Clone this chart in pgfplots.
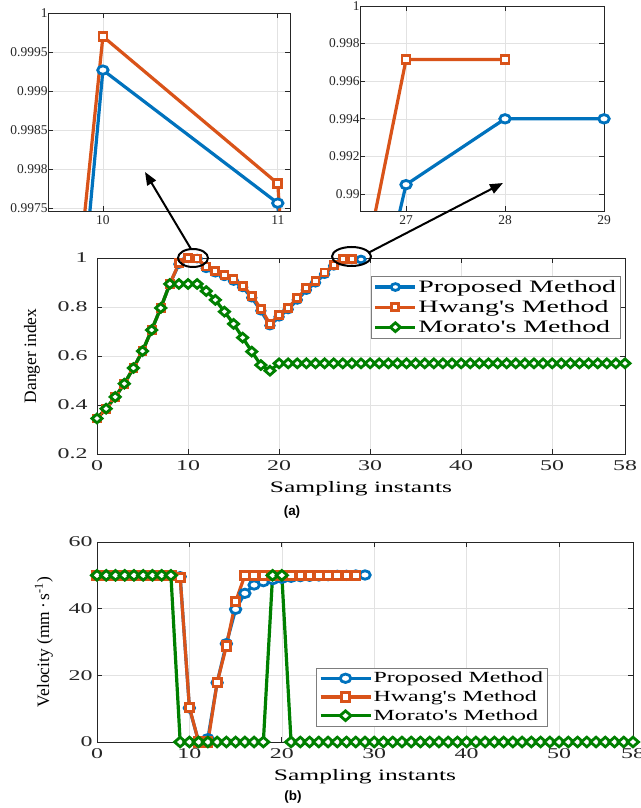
\documentclass[border=0pt]{standalone}
\usepackage{fontspec}
\setmainfont{Liberation Serif}
\newfontfamily\wideserif[FakeStretch=1.6]{Liberation Serif}
\newfontfamily\legserif[FakeStretch=1.55]{Liberation Serif}
\newfontfamily\labelsans{Liberation Sans}
\usepackage{pgfplots}
\pgfplotsset{compat=1.18}
\usetikzlibrary{arrows.meta}

\definecolor{mblue}{RGB}{0,114,189}
\definecolor{morange}{RGB}{217,83,25}
\definecolor{mgreen}{RGB}{0,128,0}
\definecolor{axisgray}{RGB}{38,38,38}
\definecolor{gridgray}{RGB}{226,226,226}
\definecolor{leggray}{RGB}{125,125,125}

\pgfplotsset{
  mat/.style={scale only axis, anchor=south west,
    axis line style={draw=axisgray, line width=0.8bp},
    tick align=inside, major tick length=5bp,
    tick style={draw=axisgray, line width=0.8bp},
    grid=major, grid style={draw=gridgray, line width=0.6bp},
    /pgf/number format/assume math mode=true,
    ticklabel style={text=axisgray}},
  inset/.style={mat, tick label style={font=\fontsize{13.5}{14}\selectfont},
    yticklabel style={xshift=3bp}, xticklabel style={yshift=-1bp}},
  big/.style={mat, clip=false,
    tick label style={font=\wideserif\fontsize{15}{15}\selectfont},
    xticklabel style={yshift=-3bp},
    xlabel style={font=\wideserif\fontsize{16}{17}\selectfont, anchor=center},
    ylabel style={font=\fontsize{17.5}{18}\selectfont, anchor=center},
    legend cell align=left},
  % series styles: #1 = marker size
  sP/.style={color=mblue, line width=3.2bp, mark=*,
    mark options={fill=white, line width=2.8bp, solid, xscale=1.25}, mark size=#1},
  sH/.style={color=morange, line width=3.2bp, mark=square*,
    mark options={fill=white, line width=2.8bp, solid}, mark size=#1},
  sM/.style={color=mgreen, line width=3.2bp, mark=square*,
    mark options={fill=white, line width=2.8bp, solid, xscale=1.15, rotate=45}, mark size=#1},
}

\begin{document}
\begin{tikzpicture}
\path[use as bounding box] (0,0) rectangle (641bp,808bp);

% ---------- inset 1 (samples 10-11) ----------
\begin{axis}[inset, at={(48bp,597bp)}, width=242bp, height=198bp,
  xmin=9.686, xmax=11.07, ymin=0.99747, ymax=1,
  xtick={10,11},
  ytick={0.9975,0.998,0.9985,0.999,0.9995,1},
  yticklabels={0.9975,0.998,0.9985,0.999,0.9995,1}]
\addplot[sP=4.2bp] coordinates {(9,0.975) (10,0.99927) (11,0.99757) (12,0.958)};
\addplot[sH=4bp] coordinates {(9,0.978) (10,0.9997) (11,0.99782) (12,0.965)};
\end{axis}

% ---------- inset 2 (samples 27-29) ----------
\begin{axis}[inset, at={(360bp,597bp)}, width=244bp, height=205bp,
  xmin=26.535, xmax=29, ymin=0.9891, ymax=1,
  xtick={27,28,29},
  ytick={0.99,0.992,0.994,0.996,0.998,1},
  yticklabels={0.99,0.992,0.994,0.996,0.998,1}]
\addplot[sP=4.2bp] coordinates {(26,0.968) (27,0.9905) (28,0.994) (29,0.994)};
\addplot[sH=4bp] coordinates {(26,0.971) (27,0.99715) (28,0.99715)};
\end{axis}

% ---------- (a) danger index ----------
\begin{axis}[big, at={(97bp,354bp)}, width=528bp, height=196bp,
  xmin=0, xmax=58, ymin=0.2, ymax=1,
  xtick={0,10,20,30,40,50,58}, ytick={0.2,0.4,0.6,0.8,1},
  yticklabel style={xshift=-6bp},
  xlabel={Sampling instants}, ylabel={Danger index},
  xlabel style={at={(axis description cs:0.5,-0.179)}},
  ylabel style={at={(axis description cs:-0.123,0.5)}},
  legend style={at={(0.991,0.908)}, anchor=north east, draw=leggray,
    font=\wideserif\fontsize{17.5}{18}\selectfont, text=black,
    inner sep=2.5bp, row sep=3.5bp, nodes={inner sep=1.5bp}},
  legend image code/.code={\draw[mark repeat=2,mark phase=2,#1,line width=3.2bp]
    plot coordinates {(0bp,0bp) (20bp,0bp) (40bp,0bp)};}]
\addplot[sP=3.4bp] coordinates {(0,0.345) (1,0.385) (2,0.433) (3,0.487) (4,0.551)
  (5,0.620) (6,0.706) (7,0.796) (8,0.894) (9,0.975) (10,0.99927) (11,0.99757)
  (12,0.958) (13,0.940) (14,0.925) (15,0.906) (16,0.880) (17,0.838) (18,0.785)
  (19,0.724) (20,0.760) (21,0.790) (22,0.829) (23,0.869) (24,0.899) (25,0.934)
  (26,0.968) (27,0.9905) (28,0.994) (29,0.994)};
\addlegendentry{Proposed Method}
\addplot[sH=3.5bp] coordinates {(0,0.345) (1,0.385) (2,0.433) (3,0.487) (4,0.551)
  (5,0.620) (6,0.706) (7,0.796) (8,0.894) (9,0.978) (10,0.9997) (11,0.99782)
  (12,0.965) (13,0.947) (14,0.932) (15,0.913) (16,0.887) (17,0.846) (18,0.793)
  (19,0.731) (20,0.767) (21,0.797) (22,0.836) (23,0.876) (24,0.906) (25,0.941)
  (26,0.971) (27,0.99715) (28,0.99715)};
\addlegendentry{Hwang's Method}
\addplot[sM=3.1bp] coordinates {(0,0.345) (1,0.385) (2,0.433) (3,0.487) (4,0.551)
  (5,0.620) (6,0.706) (7,0.796) (8,0.894) (9,0.894) (10,0.894) (11,0.894)
  (12,0.865) (13,0.829) (14,0.781) (15,0.731) (16,0.675) (17,0.618) (18,0.563)
  (19,0.540) (20,0.570) (21,0.570) (22,0.570) (23,0.570) (24,0.570) (25,0.570)
  (26,0.570) (27,0.570) (28,0.570) (29,0.570) (30,0.570) (31,0.570) (32,0.570)
  (33,0.570) (34,0.570) (35,0.570) (36,0.570) (37,0.570) (38,0.570) (39,0.570)
  (40,0.570) (41,0.570) (42,0.570) (43,0.570) (44,0.570) (45,0.570) (46,0.570)
  (47,0.570) (48,0.570) (49,0.570) (50,0.570) (51,0.570) (52,0.570) (53,0.570)
  (54,0.570) (55,0.570) (56,0.570) (57,0.570) (58,0.570)};
\addlegendentry{Morato's Method}
\end{axis}

% ---------- (b) velocity ----------
\begin{axis}[big, at={(97bp,66bp)}, width=536bp, height=200bp,
  xmin=0, xmax=58, ymin=0, ymax=60,
  xtick={0,10,20,30,40,50,58}, ytick={0,20,40,60},
  yticklabel style={xshift=-1bp},
  xlabel={Sampling instants}, ylabel={Velocity (mm\,·\,s\textsuperscript{-1})},
  xlabel style={at={(axis description cs:0.5,-0.175)}},
  ylabel style={at={(axis description cs:-0.099,0.5)}},
  legend style={at={(0.409,0.08)}, anchor=south west, draw=leggray,
    font=\legserif\fontsize{15.5}{16}\selectfont, text=black,
    inner sep=2.5bp, row sep=3.5bp, nodes={inner sep=1.5bp}},
  legend image code/.code={\draw[mark repeat=2,mark phase=2,#1,line width=3.2bp]
    plot coordinates {(0bp,0bp) (25bp,0bp) (50bp,0bp)};}]
\addplot[sP=4.2bp] coordinates {(0,50) (1,50) (2,50) (3,50) (4,50) (5,50) (6,50)
  (7,50) (8,50) (9,49.6) (10,10.2) (11,0) (12,1) (13,17.8) (14,29.5) (15,39.8)
  (16,44.6) (17,47.1) (18,48.1) (19,48.7) (20,49.1) (21,49.4) (22,49.6) (23,49.7)
  (24,49.8) (25,49.9) (26,50) (27,50) (28,50.1) (29,50.1)};
\addlegendentry{Proposed Method}
\addplot[sH=4.2bp] coordinates {(0,50) (1,50) (2,50) (3,50) (4,50) (5,50) (6,50)
  (7,50) (8,50) (9,49.4) (10,10.4) (11,0) (12,0) (13,17.8) (14,28.8) (15,42.1)
  (16,50) (17,50) (18,50) (19,50) (20,50) (21,50) (22,50) (23,50) (24,50)
  (25,50) (26,50) (27,50) (28,50)};
\addlegendentry{Hwang's Method}
\addplot[sM=3.4bp] coordinates {(0,50) (1,50) (2,50) (3,50) (4,50) (5,50) (6,50)
  (7,50) (8,50) (9,0) (10,0) (11,0) (12,0) (13,0) (14,0) (15,0) (16,0) (17,0)
  (18,0) (19,50) (20,50) (21,0) (22,0) (23,0) (24,0) (25,0) (26,0) (27,0) (28,0)
  (29,0) (30,0) (31,0) (32,0) (33,0) (34,0) (35,0) (36,0) (37,0) (38,0) (39,0)
  (40,0) (41,0) (42,0) (43,0) (44,0) (45,0) (46,0) (47,0) (48,0) (49,0) (50,0)
  (51,0) (52,0) (53,0) (54,0) (55,0) (56,0) (57,0) (58,0)};
\addlegendentry{Morato's Method}
\end{axis}

% ---------- zoom annotations ----------
\draw[line width=2bp] (193bp,550bp) ellipse (15bp and 9bp);
\draw[line width=2bp] (351.5bp,551.5bp) ellipse (19.5bp and 9.5bp);
\draw[line width=2bp, -{Triangle[length=13bp,width=10bp]}] (191bp,559bp) -- (145bp,636bp);
\draw[line width=2bp, -{Triangle[length=13bp,width=10bp]}] (368bp,555bp) -- (503bp,625bp);

\node[font=\labelsans\bfseries\fontsize{13.5}{14}\selectfont] at (292bp,296bp) {(a)};
\node[font=\labelsans\bfseries\fontsize{13.5}{14}\selectfont] at (293bp,10.5bp) {(b)};
\end{tikzpicture}
\end{document}
